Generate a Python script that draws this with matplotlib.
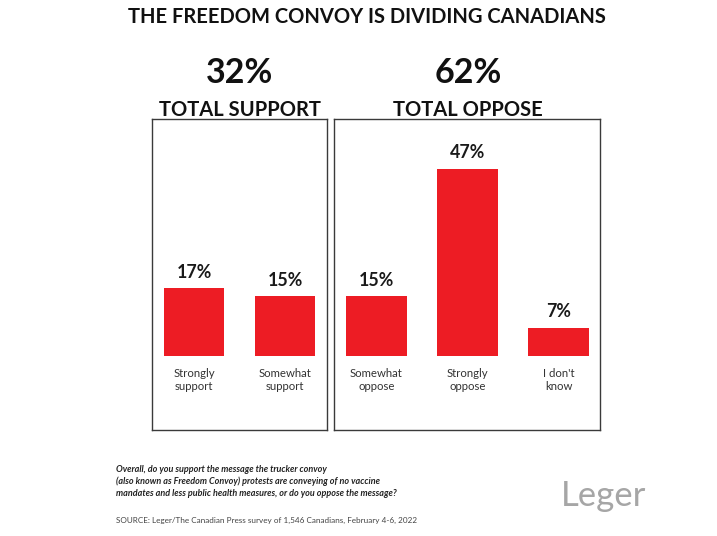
import matplotlib.pyplot as plt

plt.rcParams['font.family'] = ['Lato', 'DejaVu Sans']

# data
support_labels = ['Strongly\nsupport', 'Somewhat\nsupport']
support_values = [17, 15]
oppose_labels = ['Somewhat\noppose', 'Strongly\noppose', "I don't\nknow"]
oppose_values = [15, 47, 7]
group_totals = ['32%', '62%']
group_names = ['TOTAL SUPPORT', 'TOTAL OPPOSE']

W, H = 717, 536
RED = '#ed1c24'
fig = plt.figure(figsize=(W / 100, H / 100), dpi=100)


def px_axes(x0, y0, x1, y1):
    # pixel box (top-left origin) -> figure axes
    return fig.add_axes([x0 / W, 1 - y1 / H, (x1 - x0) / W, (y1 - y0) / H])


def draw_box(ax, labels, values, xlim):
    ax.bar(range(len(values)), values, width=0.66, color=RED)
    for i, (lab, v) in enumerate(zip(labels, values)):
        ax.text(i, v + 1.9, f'{v}%', ha='center', va='bottom',
                fontsize=12.8, fontweight='bold', color='#1a1a1a')
        ax.text(i, -3.0, lab, ha='center', va='top', fontsize=8.2,
                color='#333333', linespacing=1.25)
    ax.set_xlim(*xlim)
    ax.set_ylim(-18.7, 59.6)
    ax.set_xticks([])
    ax.set_yticks([])
    for s in ax.spines.values():
        s.set_edgecolor('#3a3a3a')
        s.set_linewidth(1.0)


ax1 = px_axes(152, 119, 327, 430)
draw_box(ax1, support_labels, support_values, (-0.46, 1.46))
ax2 = px_axes(334, 119, 600, 430)
draw_box(ax2, oppose_labels, oppose_values, (-0.467, 2.456))

fig.text(367 / W, 1 - 17 / H, 'THE FREEDOM CONVOY IS DIVIDING CANADIANS',
         ha='center', va='center', fontsize=14.5, fontweight='bold', color='#111111')
for xc, tot, name in zip([240, 468], group_totals, group_names):
    fig.text(xc / W, 1 - 73 / H, tot, ha='center', va='center',
             fontsize=24.5, fontweight='bold', color='#111111')
    fig.text(xc / W, 1 - 110 / H, name, ha='center', va='center',
             fontsize=14.5, fontweight='bold', color='#111111')

question = ('Overall, do you support the message the trucker convoy\n'
            '(also known as Freedom Convoy) protests are conveying of no vaccine\n'
            'mandates and less public health measures, or do you oppose the message?')
fig.text(116 / W, 1 - 465 / H, question, ha='left', va='top', fontsize=6.5,
         fontstyle='italic', fontweight='bold', color='#222222', linespacing=1.35)
fig.text(116 / W, 1 - 520 / H,
         'SOURCE: Leger/The Canadian Press survey of 1,546 Canadians, February 4-6, 2022',
         ha='left', va='center', fontsize=5.9, color='#444444')
fig.text(604 / W, 1 - 496 / H, 'Leger', ha='center', va='center',
         fontsize=25, color='#a6a6a6')

fig.savefig('out.png', dpi=100)
